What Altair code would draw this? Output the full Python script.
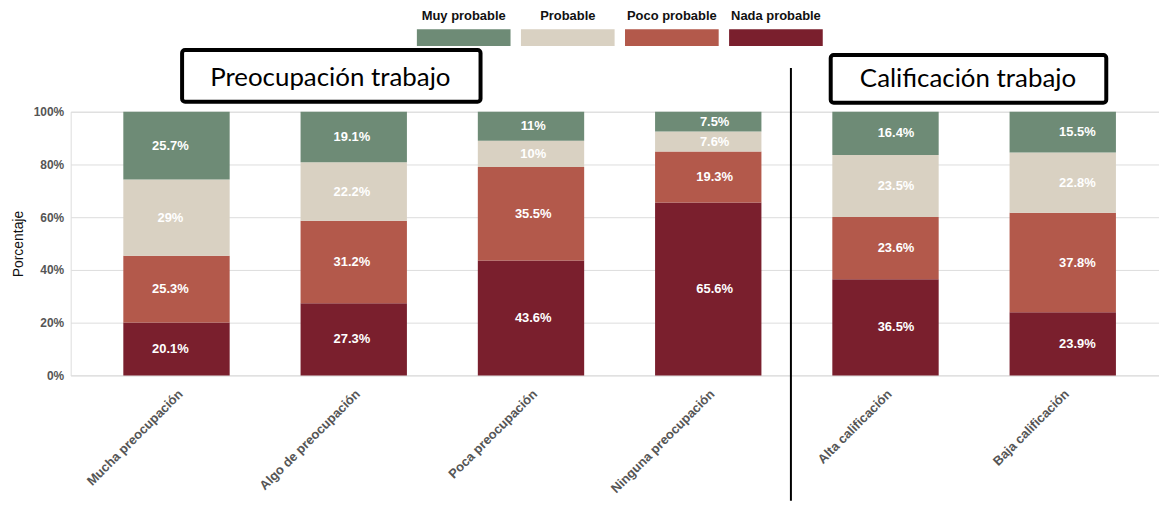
import altair as alt
import pandas as pd

categories = ["Mucha preocupación", "Algo de preocupación", "Poca preocupación",
              "Ninguna preocupación", "Alta calificación", "Baja calificación"]
levels = ["Nada probable", "Poco probable", "Probable", "Muy probable"]  # bottom -> top
legend_order = ["Muy probable", "Probable", "Poco probable", "Nada probable"]
colors = {"Muy probable": "#6E8B76", "Probable": "#D9D1C2",
          "Poco probable": "#B3594B", "Nada probable": "#7A1F2D"}

nada_probable = [20.1, 27.3, 43.6, 65.6, 36.5, 23.9]
poco_probable = [25.3, 31.2, 35.5, 19.3, 23.6, 37.8]
probable = [29, 22.2, 10, 7.6, 23.5, 22.8]
muy_probable = [25.7, 19.1, 11, 7.5, 16.4, 15.5]

series = {"Nada probable": nada_probable, "Poco probable": poco_probable,
          "Probable": probable, "Muy probable": muy_probable}

rows = []
for lvl_i, lvl in enumerate(levels):
    for c, v in zip(categories, series[lvl]):
        rows.append({"cat": c, "nivel": lvl, "ord": lvl_i, "value": v,
                     "label": f"{v:g}%"})
df = pd.DataFrame(rows)

group_titles = ["Preocupación trabajo", "Calificación trabajo"]

FONT = "Liberation Sans"

color_scale = alt.Scale(domain=legend_order, range=[colors[k] for k in legend_order])
x_scale = alt.Scale(domain=categories, paddingInner=0.4, paddingOuter=0.27, align=0.55)
y_scale = alt.Scale(domain=[0, 1], nice=False)
y_axis = alt.Axis(values=[0, 0.2, 0.4, 0.6, 0.8, 1.0], format=".0%",
                  labelFontWeight="bold", labelFontSize=12, labelColor="#555555",
                  labelFont=FONT, ticks=False, domain=False, labelPadding=7,
                  gridColor="#dddddd", gridWidth=1,
                  titleFont=FONT, titleFontWeight="normal", titleFontSize=14,
                  titleColor="#111111", titlePadding=8)

base = alt.Chart(df)

bars = base.mark_bar().encode(
    x=alt.X("cat:N", scale=x_scale, sort=categories, title=None,
            axis=alt.Axis(labelAngle=-45, labelAlign="right", labelBaseline="top",
                          labelFontWeight="bold", labelFontSize=13, labelColor="#555555",
                          labelFont=FONT, ticks=False, domain=False, labelPadding=12,
                          grid=False)),
    y=alt.Y("value:Q", stack="normalize", scale=y_scale, title="Porcentaje", axis=y_axis),
    color=alt.Color("nivel:N", scale=color_scale, legend=None),
    order=alt.Order("ord:Q"),
)

texts = base.transform_stack(
    stack="value", groupby=["cat"], sort=[alt.SortField("ord")],
    as_=["v0", "v1"], offset="normalize"
).transform_calculate(
    mid="(datum.v0 + datum.v1) / 2"
).mark_text(color="white", fontWeight="bold", fontSize=13, font=FONT).encode(
    x=alt.X("cat:N", scale=x_scale, sort=categories, axis=None),
    y=alt.Y("mid:Q", scale=y_scale, title="Porcentaje", axis=y_axis),
    text="label:N",
)

sep = alt.Chart(pd.DataFrame({"k": [0]})).mark_rule(color="black", strokeWidth=2).encode(
    x=alt.value(724), y=alt.value(-44), y2=alt.value(391)
)

def title_box(title, x0, x1, y0, y1, tx, ty):
    d = pd.DataFrame({"t": [title]})
    r = alt.Chart(d).mark_rect(fill="white", stroke="black", strokeWidth=4,
                               cornerRadius=3).encode(
        x=alt.value(x0), x2=alt.value(x1), y=alt.value(y0), y2=alt.value(y1))
    t = alt.Chart(d).mark_text(font="Lato", fontSize=26, color="black",
                               baseline="alphabetic", align="center").encode(
        x=alt.value(tx), y=alt.value(ty), text="t:N")
    return r + t

box1 = title_box(group_titles[0], 112, 412, -62, -10, 261, -26)
box2 = title_box(group_titles[1], 764, 1041, -57, -9, 902, -25)

leg_df = pd.DataFrame({"nivel": legend_order})
leg_x = alt.Scale(domain=legend_order, range=[348, 756], paddingInner=0.1, paddingOuter=0)
leg_rect = alt.Chart(leg_df).mark_rect().encode(
    x=alt.X("nivel:N", scale=leg_x, axis=None, sort=legend_order),
    y=alt.value(-83), y2=alt.value(-66),
    color=alt.Color("nivel:N", scale=color_scale, legend=None),
)
leg_text = alt.Chart(leg_df).mark_text(font=FONT, fontWeight="bold", fontSize=13,
                                       color="#111111", baseline="middle").encode(
    x=alt.X("nivel:N", scale=leg_x, axis=None, sort=legend_order),
    y=alt.value(-96),
    text="nivel:N",
)
legend = alt.layer(leg_rect, leg_text)

chart = alt.layer(
    bars, texts, sep, box1, box2, legend
).resolve_scale(x="independent").properties(
    width=1094, height=265,
    autosize=alt.AutoSizeParams(type="none"),
    padding={"left": 63, "top": 103, "right": 0, "bottom": 129},
).configure_view(strokeWidth=0).configure(background="white")

chart.save("out.html", embed_options={"renderer": "svg", "actions": False})
